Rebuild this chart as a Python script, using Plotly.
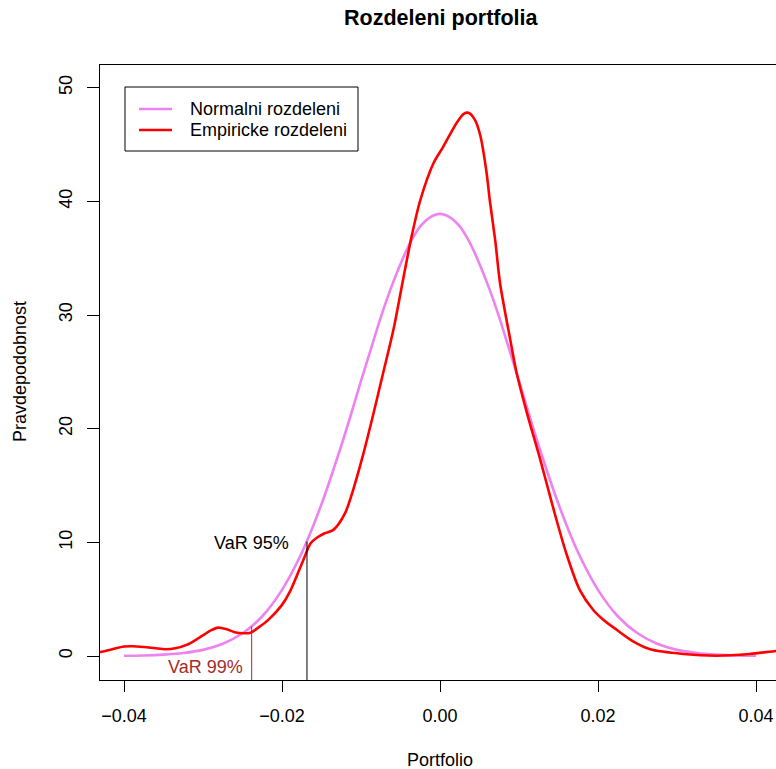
import plotly.graph_objects as go

# ---- data ----
normal_x = [-0.04, -0.0375, -0.035, -0.0325, -0.03, -0.0275, -0.025, -0.0225, -0.02, -0.0175,
            -0.015, -0.0125, -0.01125, -0.01, -0.00875, -0.0075, -0.00625, -0.005, -0.00375,
            -0.0025, -0.00125, 0.0, 0.00125, 0.0025, 0.00375, 0.005, 0.00625, 0.0075, 0.00875,
            0.01, 0.01125, 0.0125, 0.015, 0.0175, 0.02, 0.0225, 0.025, 0.0275, 0.03, 0.0325,
            0.035, 0.0375, 0.04]
normal_y = [0.02, 0.05, 0.12, 0.26, 0.54, 1.08, 2.0, 3.5, 5.82, 9.08,
            13.36, 18.5, 21.3, 24.2, 27.0, 29.8, 32.3, 34.5, 36.4,
            37.8, 38.6, 38.9, 38.6, 37.8, 36.4, 34.5, 32.3, 29.8, 27.0,
            24.2, 21.3, 18.5, 13.36, 9.08, 5.82, 3.5, 2.0, 1.08, 0.54, 0.26,
            0.12, 0.05, 0.02]

emp_x = [-0.0445, -0.0430, -0.0415, -0.0400, -0.0390, -0.0375, -0.0360, -0.0348, -0.0335,
         -0.0320, -0.0305, -0.0290, -0.0281, -0.0270, -0.0260, -0.0249, -0.0240, -0.0230,
         -0.0217, -0.0200, -0.0190, -0.0173, -0.0164, -0.0156, -0.0146, -0.0135, -0.0120,
         -0.0110, -0.0097, -0.0084, -0.0072, -0.0059, -0.0046, -0.0036, -0.0025, -0.0008,
         0.0004, 0.0021, 0.0030, 0.0036, 0.0044, 0.0051, 0.0059, 0.0063, 0.0070, 0.0076, 0.0089, 0.0097,
         0.0110, 0.0127, 0.0143, 0.0160, 0.0177, 0.0194, 0.0207, 0.0224, 0.0245, 0.0266,
         0.0308, 0.0350, 0.0392, 0.0425, 0.0445]
emp_y = [0.22, 0.35, 0.6, 0.83, 0.86, 0.8, 0.68, 0.6, 0.68,
         1.0, 1.6, 2.25, 2.5, 2.35, 2.1, 2.0, 2.05, 2.5,
         3.2, 4.5, 5.66, 8.45, 9.9, 10.4, 10.8, 11.1, 12.6,
         14.6, 17.8, 21.4, 24.9, 28.7, 33.4, 36.9, 40.1, 43.4,
         44.8, 46.9, 47.7, 47.8, 47.2, 45.8, 42.5, 40.1, 36.5, 32.8, 27.8, 24.9,
         21.4, 17.25, 13.1, 9.0, 5.8, 4.05, 3.17, 2.29, 1.26, 0.59,
         0.18, 0.03, 0.18, 0.44, 0.56]

var95 = -0.01684
var95_dens = 10.07
var99 = -0.02384
var99_dens = 2.6

x_ticks = [-0.04, -0.02, 0.0, 0.02, 0.04]
x_ticktext = ["\u22120.04", "\u22120.02", "0.00", "0.02", "0.04"]
y_ticks = [0, 10, 20, 30, 40, 50]

legend_labels = ["Normalni rozdeleni", "Empiricke rozdeleni"]
colors = ["#EE82EE", "#FF0000"]

FONT = "Liberation Sans, Arial, Helvetica, sans-serif"
ymin, ymax = -2.11, 52.0

fig = go.Figure()
fig.add_trace(go.Scatter(x=normal_x, y=normal_y, mode="lines",
                         line=dict(color=colors[0], width=2.6, shape="spline", smoothing=0.8),
                         showlegend=False, hoverinfo="skip"))
fig.add_trace(go.Scatter(x=emp_x, y=emp_y, mode="lines",
                         line=dict(color=colors[1], width=2.6, shape="spline", smoothing=0.8),
                         showlegend=False, hoverinfo="skip"))
fig.add_trace(go.Scatter(x=[var95, var95], y=[ymin, var95_dens], mode="lines",
                         line=dict(color="black", width=1), showlegend=False, hoverinfo="skip"))
fig.add_trace(go.Scatter(x=[var99, var99], y=[ymin, var99_dens], mode="lines",
                         line=dict(color="#A52A2A", width=1), showlegend=False, hoverinfo="skip"))

W, H = 776, 769
L, R, T, B = 100, 0, 65, 769 - 680
pw, ph = W - L - R, H - T - B

def px(xp):
    return (xp - L) / pw

def py(yp):
    return (H - B - yp) / ph

annotations = [
    dict(text="<b>Rozdeleni portfolia</b>", x=px(441), y=py(18), xref="paper", yref="paper",
         showarrow=False, xanchor="center", yanchor="middle", font=dict(size=21.5, family=FONT, color="black")),
    dict(text="Portfolio", x=px(440), y=py(760), xref="paper", yref="paper",
         showarrow=False, xanchor="center", yanchor="middle", font=dict(size=18, family=FONT, color="black")),
    dict(text="Pravdepodobnost", x=px(20), y=py(372), xref="paper", yref="paper", textangle=-90,
         showarrow=False, xanchor="center", yanchor="middle", font=dict(size=18, family=FONT, color="black")),
    dict(text="VaR 95%", x=var95 - 0.0020, y=var95_dens - 0.1, xref="x", yref="y",
         showarrow=False, xanchor="right", yanchor="middle", font=dict(size=18, family=FONT, color="black")),
    dict(text="VaR 99%", x=var99 - 0.0008, y=-0.94, xref="x", yref="y",
         showarrow=False, xanchor="right", yanchor="middle", font=dict(size=18, family=FONT, color="#A52A2A")),
]
for i, lab in enumerate(legend_labels):
    annotations.append(dict(text=lab, x=px(188), y=py(109 + 21 * i), xref="paper", yref="paper",
                            showarrow=False, xanchor="left", yanchor="middle",
                            font=dict(size=18, family=FONT, color="black")))

shapes = [dict(type="rect", xref="paper", yref="paper", x0=px(125), x1=px(358), y0=py(151), y1=py(87),
               line=dict(color="black", width=1), fillcolor="white", layer="above")]
for i, c in enumerate(colors):
    shapes.append(dict(type="line", xref="paper", yref="paper", x0=px(139), x1=px(172),
                       y0=py(109 + 21 * i), y1=py(109 + 21 * i), line=dict(color=c, width=2.6), layer="above"))

fig.update_layout(
    width=W, height=H,
    margin=dict(l=L, r=R, t=T, b=B, pad=0),
    paper_bgcolor="white", plot_bgcolor="white",
    font=dict(family=FONT, size=18, color="black"),
    annotations=annotations, shapes=shapes,
    showlegend=False,
)
fig.update_xaxes(range=[-0.04304, 0.04253], tickvals=x_ticks, ticktext=x_ticktext,
                 showgrid=False, zeroline=False, showline=True, linecolor="black", linewidth=1,
                 mirror=True, ticks="outside", ticklen=11, tickcolor="black", tickwidth=1,
                 tickfont=dict(size=18, family=FONT), ticklabelstandoff=8)
fig.update_yaxes(range=[ymin, ymax], tickvals=y_ticks, showgrid=False, zeroline=False,
                 showline=True, linecolor="black", linewidth=1, ticks="outside", ticklen=12,
                 tickcolor="black", tickwidth=1, tickangle=-90,
                 tickfont=dict(size=18, family=FONT), ticklabelstandoff=8)

fig.write_html(
    "out.html",
    config={"displayModeBar": False, "staticPlot": True},
    post_script="document.documentElement.style.overflow='hidden';"
                "document.body.style.overflow='hidden';document.body.style.margin='0';",
)
